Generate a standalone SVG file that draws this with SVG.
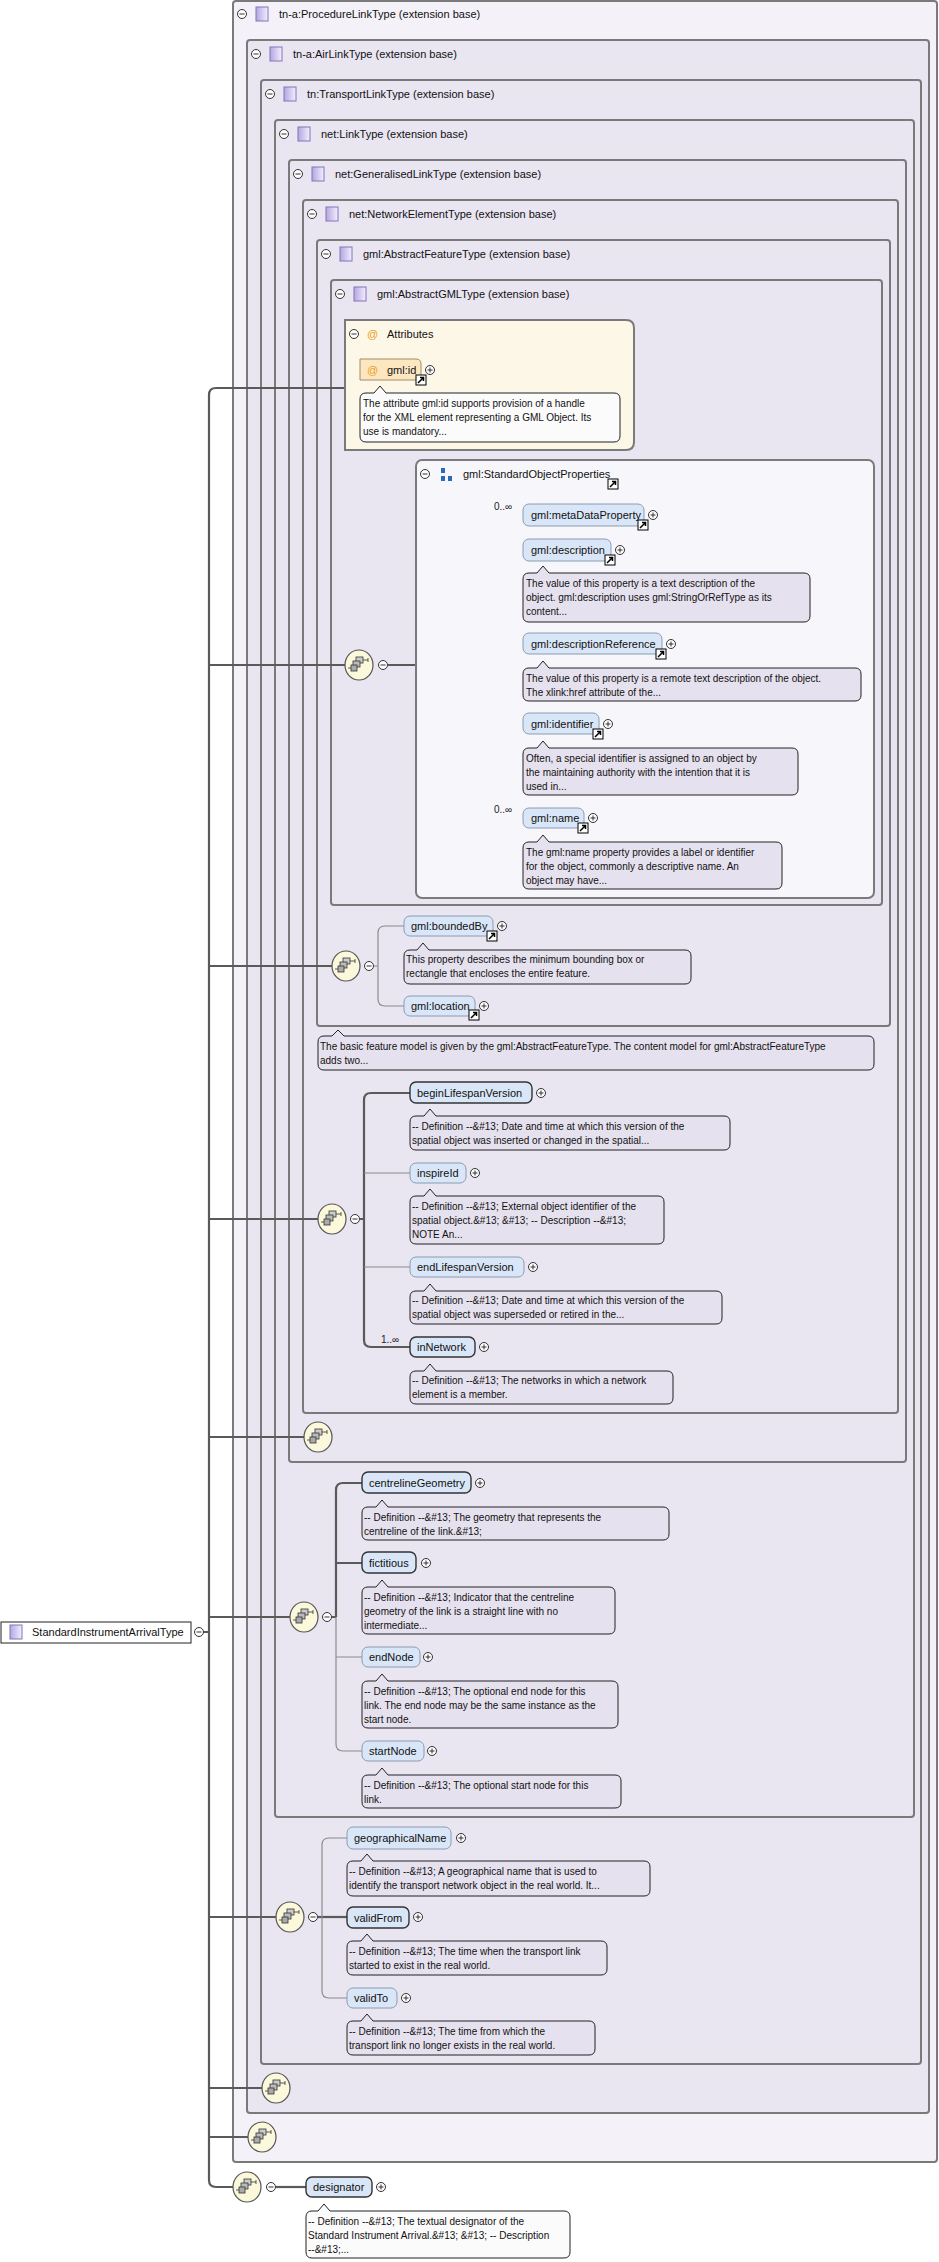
<svg xmlns="http://www.w3.org/2000/svg" xmlns:xlink="http://www.w3.org/1999/xlink" width="939" height="2262" viewBox="0 0 939 2262">
<style>
text{font-family:"Liberation Sans",Arial,sans-serif;fill:#111}
.h{font-size:11px}
.t{font-size:11px}
.d{font-size:10px}
.c{font-size:10px;fill:#222}
.b1{fill:#f4f2f8;stroke:#7a7a7a;stroke-width:2}
.b{fill:#e9e5f1;stroke:#7a7a7a;stroke-width:2}
.el{fill:#d9e6f7;stroke:#8a9cb2;stroke-width:1}
.em{fill:#d9e6f7;stroke:#333;stroke-width:1.4}
.ds{fill:#e6e1ee;stroke:#222;stroke-width:1}
.dw{fill:#fbfbfb;stroke:#222;stroke-width:1}
.ln{fill:none;stroke:#8c8c8c;stroke-width:1.2}
.lb{fill:none;stroke:#5a5a5a;stroke-width:2.2}
.sep{stroke:url(#sg);stroke-width:2}
</style>
<defs>
<linearGradient id="sg" x1="0" x2="1" y1="0" y2="0"><stop offset="0" stop-color="#c8c8c8"/><stop offset="0.3" stop-color="#8a8a8a"/><stop offset="1" stop-color="#ffffff" stop-opacity="0"/></linearGradient>
<linearGradient id="ig" x1="0" x2="1"><stop offset="0" stop-color="#b4a6e0"/><stop offset="1" stop-color="#f2efff"/></linearGradient>
<g id="minus"><circle r="4.5" fill="#fff" stroke="#333" stroke-width="1"/><path d="M-2.5 0H2.5" stroke="#333" stroke-width="1"/></g>
<g id="plus"><circle r="4.5" fill="#fff" stroke="#333" stroke-width="1"/><path d="M-2.5 0H2.5M0 -2.5V2.5" stroke="#333" stroke-width="1"/></g>
<g id="lnk"><rect x="0" y="0" width="10" height="10" fill="#fff" stroke="#000" stroke-width="1"/><path d="M2 8L7.5 2.5M4 2.5H7.5V6" stroke="#000" stroke-width="1.5" fill="none"/></g>
<g id="ti"><rect x="0" y="0" width="12" height="14" fill="url(#ig)" stroke="#8474b8" stroke-width="1"/></g>
<g id="seq"><ellipse rx="14" ry="15" fill="#fbf8dc" stroke="#555" stroke-width="1.2"/><rect x="-3" y="-8" width="7" height="6" fill="#ccc" stroke="#333" stroke-width="0.8"/><rect x="-6" y="-4" width="7" height="6" fill="#bbb" stroke="#333" stroke-width="0.8"/><rect x="-8" y="0" width="6" height="6" fill="#aaa" stroke="#333" stroke-width="0.8"/><path d="M-11 3H-8M4 -5H9M9 -7V-3" stroke="#333" stroke-width="0.8" fill="none"/></g>
</defs>

<g id="box1"><rect class="b1" x="233" y="1" width="704" height="2161" rx="3"/><use href="#minus" x="242" y="14"/><use href="#ti" x="256" y="7"/><text class="h" x="279" y="18">tn-a:ProcedureLinkType (extension base)</text><line class="sep" x1="236" y1="29" x2="700" y2="29"/></g>
<g id="box2"><rect class="b" x="247" y="40" width="682" height="2073" rx="3"/><use href="#minus" x="256" y="54"/><use href="#ti" x="270" y="47"/><text class="h" x="293" y="58">tn-a:AirLinkType (extension base)</text><line class="sep" x1="250" y1="69" x2="700" y2="69"/></g>
<g id="box3"><rect class="b" x="261" y="80" width="660" height="1984" rx="3"/><use href="#minus" x="270" y="94"/><use href="#ti" x="284" y="87"/><text class="h" x="307" y="98">tn:TransportLinkType (extension base)</text><line class="sep" x1="264" y1="109" x2="700" y2="109"/></g>
<g id="box4"><rect class="b" x="275" y="120" width="639" height="1697" rx="3"/><use href="#minus" x="284" y="134"/><use href="#ti" x="298" y="127"/><text class="h" x="321" y="138">net:LinkType (extension base)</text><line class="sep" x1="278" y1="149" x2="700" y2="149"/></g>
<g id="box5"><rect class="b" x="289" y="160" width="617" height="1302" rx="3"/><use href="#minus" x="298" y="174"/><use href="#ti" x="312" y="167"/><text class="h" x="335" y="178">net:GeneralisedLinkType (extension base)</text><line class="sep" x1="292" y1="189" x2="700" y2="189"/></g>
<g id="box6"><rect class="b" x="303" y="200" width="595" height="1213" rx="3"/><use href="#minus" x="312" y="214"/><use href="#ti" x="326" y="207"/><text class="h" x="349" y="218">net:NetworkElementType (extension base)</text><line class="sep" x1="306" y1="229" x2="700" y2="229"/></g>
<g id="box7"><rect class="b" x="317" y="240" width="573" height="786" rx="3"/><use href="#minus" x="326" y="254"/><use href="#ti" x="340" y="247"/><text class="h" x="363" y="258">gml:AbstractFeatureType (extension base)</text><line class="sep" x1="320" y1="269" x2="700" y2="269"/></g>
<g id="box8"><rect class="b" x="331" y="280" width="551" height="625" rx="3"/><use href="#minus" x="340" y="294"/><use href="#ti" x="354" y="287"/><text class="h" x="377" y="298">gml:AbstractGMLType (extension base)</text><line class="sep" x1="334" y1="309" x2="700" y2="309"/></g>

<g id="connectors">
<path class="lb" d="M345 388H216Q209 388 209 395V2180Q209 2187 216 2187H233"/>
<path class="lb" d="M209 665H345M209 966H332M209 1219H318M209 1437H304M209 1617H290M209 1917H276M209 2088H262M209 2137H248M196 1632H209"/>
<path class="lb" d="M388 665H430"/>
<path class="ln" d="M473 665H477M523 515H484Q477 515 477 522V811Q477 818 484 818H523M477 550H523M477 644H523M477 724H523"/>
<path class="ln" d="M374 966H378M404 926H385Q378 926 378 933V999Q378 1006 385 1006H404"/>
<path class="lb" d="M360 1219H364M410 1093H371Q364 1093 364 1100V1340Q364 1347 371 1347H410"/>
<path class="ln" d="M364 1173H410M364 1267H410"/>
<path class="lb" d="M332 1617H336M362 1483H343Q336 1483 336 1490V1617M336 1563H362"/>
<path class="ln" d="M336 1617V1744Q336 1751 343 1751H362M336 1657H362"/>
<path class="lb" d="M318 1917H347"/>
<path class="ln" d="M347 1838H329Q322 1838 322 1845V1991Q322 1998 329 1998H347"/>
<path class="lb" d="M276 2187H306"/>
</g>

<g id="root"><rect x="1" y="1622" width="190" height="21" fill="#fff" stroke="#222" stroke-width="1"/><use href="#ti" x="10" y="1625"/><text class="t" x="32" y="1636">StandardInstrumentArrivalType</text><use href="#minus" x="199" y="1632"/></g>

<g id="attributes"><path d="M345 320H626Q634 320 634 328V442Q634 450 626 450H345Z" fill="#fdf7e8" stroke="#7a7a7a" stroke-width="2"/><use href="#minus" x="354" y="334"/><text x="367" y="338" style="font-size:11px;fill:#e8a020">@</text><text class="t" x="387" y="338">Attributes</text><line class="sep" x1="348" y1="348" x2="580" y2="348"/>
<g id="gml-id"><path d="M360 359H416Q421 359 421 364V380H360Z" fill="#fde7c0" stroke="#a28a66" stroke-width="1"/><text x="367" y="374" style="font-size:11px;fill:#e8a020">@</text><text class="t" x="387" y="374">gml:id</text><use href="#plus" x="430" y="370"/><use href="#lnk" x="416" y="375"/></g>
<path class="dw" d="M366 393H374L380 386L386 393H614Q620 393 620 399V436Q620 442 614 442H366Q360 442 360 436V399Q360 393 366 393Z" fill="#fdf9ef"/>
<text class="d" x="363" y="407">The attribute gml:id supports provision of a handle</text><text class="d" x="363" y="421">for the XML element representing a GML Object. Its</text><text class="d" x="363" y="435">use is mandatory...</text></g>

<g id="seq1"><use href="#seq" x="359" y="665"/><use href="#minus" x="383" y="665"/></g>
<g id="seq2"><use href="#seq" x="444" y="665"/><use href="#minus" x="468" y="665"/></g>

<g id="sop"><rect x="416" y="460" width="458" height="438" rx="6" fill="#f7f7fb" stroke="#7a7a7a" stroke-width="2"/><use href="#minus" x="425" y="474"/><rect x="441" y="468" width="4" height="5" fill="#2a6ab8"/><rect x="441" y="476" width="4" height="5" fill="#2a6ab8"/><rect x="448" y="476" width="4" height="5" fill="#2a6ab8"/><text class="t" x="463" y="478">gml:StandardObjectProperties</text><use href="#lnk" x="608" y="479"/><line class="sep" x1="420" y1="492" x2="760" y2="492"/></g>

<g id="metaDataProperty"><text class="c" x="494" y="510">0..∞</text><rect class="el" x="523" y="504" width="121" height="22" rx="6"/><text class="t" x="531" y="519">gml:metaDataProperty</text><use href="#plus" x="653" y="515"/><use href="#lnk" x="638" y="520"/></g>
<g id="description"><rect class="el" x="523" y="539" width="88" height="22" rx="6"/><text class="t" x="531" y="554">gml:description</text><use href="#plus" x="620" y="550"/><use href="#lnk" x="605" y="555"/>
<path class="ds" d="M529 573H537L543 566L549 573H804Q810 573 810 579V616Q810 622 804 622H529Q523 622 523 616V579Q523 573 529 573Z" fill="#f4f4f8"/><text class="d" x="526" y="587">The value of this property is a text description of the</text><text class="d" x="526" y="601">object. gml:description uses gml:StringOrRefType as its</text><text class="d" x="526" y="615">content...</text></g>
<g id="descriptionReference"><rect class="el" x="523" y="633" width="139" height="21" rx="6"/><text class="t" x="531" y="648">gml:descriptionReference</text><use href="#plus" x="671" y="644"/><use href="#lnk" x="656" y="649"/>
<path class="ds" d="M529 668H537L543 661L549 668H855Q861 668 861 674V695Q861 701 855 701H529Q523 701 523 695V674Q523 668 529 668Z" fill="#f4f4f8"/><text class="d" x="526" y="682">The value of this property is a remote text description of the object.</text><text class="d" x="526" y="696">The xlink:href attribute of the...</text></g>
<g id="identifier"><rect class="el" x="523" y="713" width="76" height="21" rx="6"/><text class="t" x="531" y="728">gml:identifier</text><use href="#plus" x="608" y="724"/><use href="#lnk" x="593" y="729"/>
<path class="ds" d="M529 748H537L543 741L549 748H792Q798 748 798 754V789Q798 795 792 795H529Q523 795 523 789V754Q523 748 529 748Z" fill="#f4f4f8"/><text class="d" x="526" y="762">Often, a special identifier is assigned to an object by</text><text class="d" x="526" y="776">the maintaining authority with the intention that it is</text><text class="d" x="526" y="790">used in...</text></g>
<g id="name"><text class="c" x="494" y="813">0..∞</text><rect class="el" x="523" y="808" width="61" height="20" rx="6"/><text class="t" x="531" y="822">gml:name</text><use href="#plus" x="593" y="818"/><use href="#lnk" x="578" y="823"/>
<path class="ds" d="M529 842H537L543 835L549 842H776Q782 842 782 848V883Q782 889 776 889H529Q523 889 523 883V848Q523 842 529 842Z" fill="#f4f4f8"/><text class="d" x="526" y="856">The gml:name property provides a label or identifier</text><text class="d" x="526" y="870">for the object, commonly a descriptive name. An</text><text class="d" x="526" y="884">object may have...</text></g>

<g id="seq3"><use href="#seq" x="346" y="966"/><use href="#minus" x="369" y="966"/></g>
<g id="boundedBy"><rect class="el" x="404" y="916" width="89" height="20" rx="6"/><text class="t" x="411" y="930">gml:boundedBy</text><use href="#plus" x="502" y="926"/><use href="#lnk" x="487" y="931"/>
<path class="ds" d="M410 950H417L423 943L429 950H685Q691 950 691 956V978Q691 984 685 984H410Q404 984 404 978V956Q404 950 410 950Z"/><text class="d" x="406" y="963">This property describes the minimum bounding box or</text><text class="d" x="406" y="977">rectangle that encloses the entire feature.</text></g>
<g id="location"><rect class="el" x="404" y="996" width="71" height="20" rx="6"/><text class="t" x="411" y="1010">gml:location</text><use href="#plus" x="484" y="1006"/><use href="#lnk" x="469" y="1010"/></g>
<g id="featureNote"><path class="ds" d="M324 1036H332L338 1030L344 1036H868Q874 1036 874 1042V1064Q874 1070 868 1070H324Q318 1070 318 1064V1042Q318 1036 324 1036Z"/><text class="d" x="320" y="1050">The basic feature model is given by the gml:AbstractFeatureType. The content model for gml:AbstractFeatureType</text><text class="d" x="320" y="1064">adds two...</text></g>

<g id="seq4"><use href="#seq" x="332" y="1219"/><use href="#minus" x="355" y="1219"/></g>
<g id="beginLifespanVersion"><rect class="em" x="410" y="1082" width="122" height="21" rx="6"/><text class="t" x="417" y="1097">beginLifespanVersion</text><use href="#plus" x="541" y="1093"/>
<path class="ds" d="M416 1116H424L430 1109L436 1116H724Q730 1116 730 1122V1144Q730 1150 724 1150H416Q410 1150 410 1144V1122Q410 1116 416 1116Z"/><text class="d" x="412" y="1130">-- Definition --&amp;#13; Date and time at which this version of the</text><text class="d" x="412" y="1144">spatial object was inserted or changed in the spatial...</text></g>
<g id="inspireId"><rect class="el" x="410" y="1163" width="56" height="20" rx="6"/><text class="t" x="417" y="1177">inspireId</text><use href="#plus" x="475" y="1173"/>
<path class="ds" d="M416 1196H424L430 1189L436 1196H658Q664 1196 664 1202V1238Q664 1244 658 1244H416Q410 1244 410 1238V1202Q410 1196 416 1196Z"/><text class="d" x="412" y="1210">-- Definition --&amp;#13; External object identifier of the</text><text class="d" x="412" y="1224">spatial object.&amp;#13; &amp;#13; -- Description --&amp;#13;</text><text class="d" x="412" y="1238">NOTE An...</text></g>
<g id="endLifespanVersion"><rect class="el" x="410" y="1257" width="114" height="20" rx="6"/><text class="t" x="417" y="1271">endLifespanVersion</text><use href="#plus" x="533" y="1267"/>
<path class="ds" d="M416 1291H424L430 1284L436 1291H716Q722 1291 722 1297V1318Q722 1324 716 1324H416Q410 1324 410 1318V1297Q410 1291 416 1291Z"/><text class="d" x="412" y="1304">-- Definition --&amp;#13; Date and time at which this version of the</text><text class="d" x="412" y="1318">spatial object was superseded or retired in the...</text></g>
<g id="inNetwork"><text class="c" x="381" y="1343">1..∞</text><rect class="em" x="410" y="1337" width="65" height="20" rx="6"/><text class="t" x="417" y="1351">inNetwork</text><use href="#plus" x="484" y="1347"/>
<path class="ds" d="M416 1371H424L430 1364L436 1371H667Q673 1371 673 1377V1398Q673 1404 667 1404H416Q410 1404 410 1398V1377Q410 1371 416 1371Z"/><text class="d" x="412" y="1384">-- Definition --&amp;#13; The networks in which a network</text><text class="d" x="412" y="1398">element is a member.</text></g>

<g id="seq5"><use href="#seq" x="318" y="1437"/></g>

<g id="seq6"><use href="#seq" x="304" y="1617"/><use href="#minus" x="327" y="1617"/></g>
<g id="centrelineGeometry"><rect class="em" x="362" y="1472" width="109" height="21" rx="6"/><text class="t" x="369" y="1487">centrelineGeometry</text><use href="#plus" x="480" y="1483"/>
<path class="ds" d="M368 1507H376L382 1500L388 1507H663Q669 1507 669 1513V1534Q669 1540 663 1540H368Q362 1540 362 1534V1513Q362 1507 368 1507Z"/><text class="d" x="364" y="1521">-- Definition --&amp;#13; The geometry that represents the</text><text class="d" x="364" y="1535">centreline of the link.&amp;#13;</text></g>
<g id="fictitious"><rect class="em" x="362" y="1552" width="54" height="21" rx="6"/><text class="t" x="369" y="1567">fictitious</text><use href="#plus" x="426" y="1563"/>
<path class="ds" d="M368 1587H376L382 1580L388 1587H609Q615 1587 615 1593V1628Q615 1634 609 1634H368Q362 1634 362 1628V1593Q362 1587 368 1587Z"/><text class="d" x="364" y="1601">-- Definition --&amp;#13; Indicator that the centreline</text><text class="d" x="364" y="1615">geometry of the link is a straight line with no</text><text class="d" x="364" y="1629">intermediate...</text></g>
<g id="endNode"><rect class="el" x="362" y="1647" width="58" height="20" rx="6"/><text class="t" x="369" y="1661">endNode</text><use href="#plus" x="428" y="1657"/>
<path class="ds" d="M368 1681H376L382 1674L388 1681H612Q618 1681 618 1687V1722Q618 1728 612 1728H368Q362 1728 362 1722V1687Q362 1681 368 1681Z"/><text class="d" x="364" y="1695">-- Definition --&amp;#13; The optional end node for this</text><text class="d" x="364" y="1709">link. The end node may be the same instance as the</text><text class="d" x="364" y="1723">start node.</text></g>
<g id="startNode"><rect class="el" x="362" y="1741" width="62" height="20" rx="6"/><text class="t" x="369" y="1755">startNode</text><use href="#plus" x="432" y="1751"/>
<path class="ds" d="M368 1775H376L382 1768L388 1775H615Q621 1775 621 1781V1802Q621 1808 615 1808H368Q362 1808 362 1802V1781Q362 1775 368 1775Z"/><text class="d" x="364" y="1789">-- Definition --&amp;#13; The optional start node for this</text><text class="d" x="364" y="1803">link.</text></g>

<g id="seq7"><use href="#seq" x="290" y="1917"/><use href="#minus" x="313" y="1917"/></g>
<g id="geographicalName"><rect class="el" x="347" y="1827" width="104" height="22" rx="6"/><text class="t" x="354" y="1842">geographicalName</text><use href="#plus" x="461" y="1838"/>
<path class="ds" d="M353 1861H361L367 1854L373 1861H644Q650 1861 650 1867V1890Q650 1896 644 1896H353Q347 1896 347 1890V1867Q347 1861 353 1861Z"/><text class="d" x="349" y="1875">-- Definition --&amp;#13; A geographical name that is used to</text><text class="d" x="349" y="1889">identify the transport network object in the real world. It...</text></g>
<g id="validFrom"><rect class="em" x="347" y="1907" width="62" height="21" rx="6"/><text class="t" x="354" y="1922">validFrom</text><use href="#plus" x="418" y="1917"/>
<path class="ds" d="M353 1941H361L367 1934L373 1941H601Q607 1941 607 1947V1969Q607 1975 601 1975H353Q347 1975 347 1969V1947Q347 1941 353 1941Z"/><text class="d" x="349" y="1955">-- Definition --&amp;#13; The time when the transport link</text><text class="d" x="349" y="1969">started to exist in the real world.</text></g>
<g id="validTo"><rect class="el" x="347" y="1988" width="50" height="20" rx="6"/><text class="t" x="354" y="2002">validTo</text><use href="#plus" x="406" y="1998"/>
<path class="ds" d="M353 2021H361L367 2014L373 2021H589Q595 2021 595 2027V2049Q595 2055 589 2055H353Q347 2055 347 2049V2027Q347 2021 353 2021Z"/><text class="d" x="349" y="2035">-- Definition --&amp;#13; The time from which the</text><text class="d" x="349" y="2049">transport link no longer exists in the real world.</text></g>

<g id="seq8"><use href="#seq" x="276" y="2088"/></g>
<g id="seq9"><use href="#seq" x="262" y="2137"/></g>

<g id="seq10"><use href="#seq" x="247" y="2187"/><use href="#minus" x="271" y="2187"/></g>
<g id="designator"><rect class="em" x="306" y="2177" width="66" height="20" rx="6"/><text class="t" x="313" y="2191">designator</text><use href="#plus" x="381" y="2187"/>
<path class="dw" d="M312 2211H318L324 2204L330 2211H564Q570 2211 570 2217V2252Q570 2258 564 2258H312Q306 2258 306 2252V2217Q306 2211 312 2211Z"/><text class="d" x="308" y="2225">-- Definition --&amp;#13; The textual designator of the</text><text class="d" x="308" y="2239">Standard Instrument Arrival.&amp;#13; &amp;#13; -- Description</text><text class="d" x="308" y="2253">--&amp;#13;...</text></g>
</svg>
